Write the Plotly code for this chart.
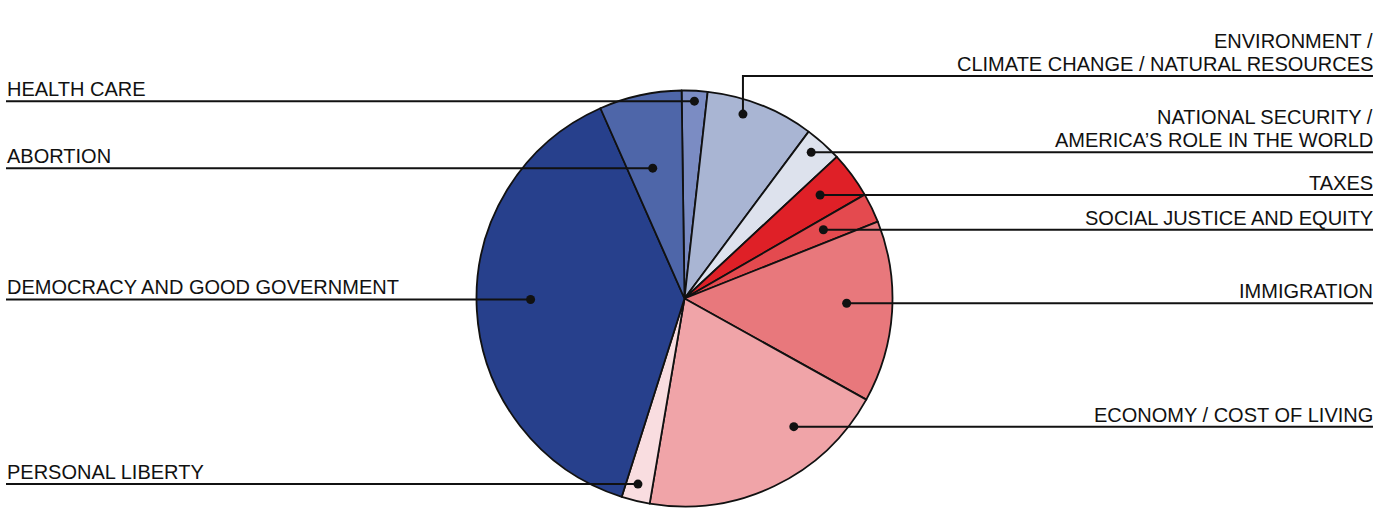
import plotly.graph_objects as go
import numpy as np

# slice data, clockwise from 12 o'clock
topics = [
    "HEALTH CARE",
    "ENVIRONMENT / CLIMATE CHANGE / NATURAL RESOURCES",
    "NATIONAL SECURITY / AMERICA'S ROLE IN THE WORLD",
    "TAXES",
    "SOCIAL JUSTICE AND EQUITY",
    "IMMIGRATION",
    "ECONOMY / COST OF LIVING",
    "PERSONAL LIBERTY",
    "DEMOCRACY AND GOOD GOVERNMENT",
    "ABORTION",
]
shares = [2.0, 8.4, 2.9, 3.6, 2.3, 14.1, 19.6, 2.2, 38.5, 6.4]
label_lines = [
    ["HEALTH CARE"],
    ["ENVIRONMENT /", "CLIMATE CHANGE / NATURAL RESOURCES"],
    ["NATIONAL SECURITY /", "AMERICA\u2019S ROLE IN THE WORLD"],
    ["TAXES"],
    ["SOCIAL JUSTICE AND EQUITY"],
    ["IMMIGRATION"],
    ["ECONOMY / COST OF LIVING"],
    ["PERSONAL LIBERTY"],
    ["DEMOCRACY AND GOOD GOVERNMENT"],
    ["ABORTION"],
]
colors = ["#7b8cc3", "#a9b5d3", "#dde2ed", "#df2027", "#e44a4f",
          "#e8787c", "#f0a4a8", "#f9dde0", "#27408c", "#4e66a9"]

# callout placement: side, position inside slice (angle fraction, radius fraction), elbow y
callouts = [
    ("left", 0.51, 0.95, None),
    ("right", 0.37, 0.93, 76),
    ("right", 0.41, 0.93, None),
    ("right", 0.43, 0.82, None),
    ("right", 0.44, 0.745, None),
    ("right", 0.46, 0.78, None),
    ("right", 0.29, 0.81, None),
    ("left", 0.56, 0.92, None),
    ("left", 0.52, 0.74, None),
    ("left", 0.44, 0.645, None),
]

W, H = 1377, 528
cx, cy, R = 684.5, 298.5, 208
rotation = -0.8
x_left, x_right = 6, 1373
font = dict(family="Liberation Sans, Arial, sans-serif", size=20, color="#111111")

fig = go.Figure()
fig.add_trace(go.Pie(
    labels=topics,
    values=shares,
    sort=False,
    direction="clockwise",
    rotation=rotation,
    textinfo="none",
    hoverinfo="label+percent",
    marker=dict(colors=colors, line=dict(color="#111111", width=1.8)),
    domain=dict(x=[(cx - R) / W, (cx + R) / W],
                y=[(H - cy - R) / H, (H - cy + R) / H]),
    showlegend=False,
))

vals = np.array(shares, dtype=float)
start = rotation + np.concatenate([[0], np.cumsum(vals)[:-1]]) / vals.sum() * 360
span = vals / vals.sum() * 360

shapes = []
annotations = []
for i, (side, af, rf, elbow) in enumerate(callouts):
    a = np.radians(start[i] + span[i] * af)
    dx = cx + R * rf * np.sin(a)
    dy = cy - R * rf * np.cos(a)
    line_y = dy if elbow is None else elbow
    if side == "left":
        path = f"M {x_left},{line_y} L {dx},{dy}"
    elif elbow is None:
        path = f"M {dx},{dy} L {x_right},{line_y}"
    else:
        path = f"M {dx},{dy} L {dx},{line_y} L {x_right},{line_y}"
    shapes.append(dict(type="path", path=path, xref="x", yref="y",
                       line=dict(color="#111111", width=2), layer="above"))
    shapes.append(dict(type="circle", xref="x", yref="y",
                       x0=dx - 4.5, x1=dx + 4.5, y0=dy - 4.5, y1=dy + 4.5,
                       fillcolor="#111111", line=dict(width=0), layer="above"))
    lines = label_lines[i]
    for k, txt in enumerate(reversed(lines)):
        annotations.append(dict(
            x=x_left - 1 if side == "left" else x_right + 2,
            y=line_y - 12 - 23 * k,
            xref="x", yref="y", text=txt, showarrow=False,
            xanchor="left" if side == "left" else "right",
            yanchor="middle", font=font,
        ))

fig.update_layout(
    width=W, height=H,
    margin=dict(l=0, r=0, t=0, b=0),
    paper_bgcolor="white", plot_bgcolor="white",
    xaxis=dict(range=[0, W], visible=False, fixedrange=True),
    yaxis=dict(range=[H, 0], visible=False, fixedrange=True),
    shapes=shapes,
    annotations=annotations,
)

fig.write_html("out.html", config={"displayModeBar": False},
               post_script="document.body.style.margin='0';document.body.style.overflow='hidden';")
